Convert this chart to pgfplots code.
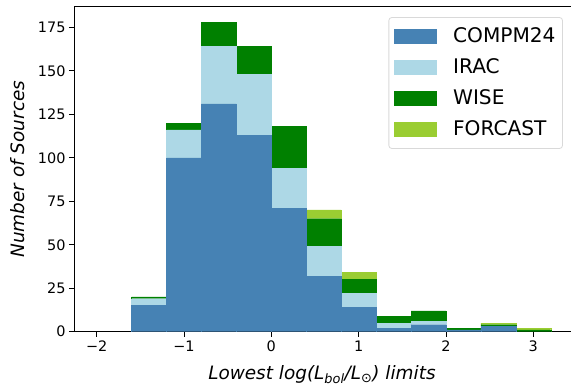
\documentclass[border=0pt]{standalone}
\usepackage{fontspec}
\setmainfont{DejaVu Sans}
\usepackage{pgfplots}
\pgfplotsset{compat=1.18}
\definecolor{cSteel}{RGB}{70,130,180}
\definecolor{cLight}{RGB}{173,216,230}
\definecolor{cGreen}{RGB}{0,128,0}
\definecolor{cYellow}{RGB}{154,205,50}
\begin{document}
\begin{tikzpicture}
\useasboundingbox (-74bp,-57.3bp) rectangle (497bp,331.7bp);
\begin{axis}[
  at={(0,0)}, anchor=south west,
  width=499.4bp, height=325bp, scale only axis,
  xmin=-2.26, xmax=3.46, ymin=0, ymax=186.9,
  ybar stacked, bar width=0.4,
  axis line style={line width=0.8bp, black},
  every tick/.style={line width=0.8bp, black},
  tick align=outside, major tick length=5bp,
  xtick pos=lower, ytick pos=left,
  xtick={-2,-1,0,1,2,3}, xticklabels={−2,−1,0,1,2,3},
  ytick={0,25,50,75,100,125,150,175},
  /pgf/number format/assume math mode=true,
  tick label style={font=\fontsize{14.5}{17}\selectfont},
  xticklabel style={yshift=-1bp},
  label style={font=\fontsize{18.5}{22}\selectfont\itshape},
  xlabel={Lowest log(L\textsubscript{bol}/L\textsubscript{⊙}) limits},
  ylabel={Number of Sources},
  xlabel style={at={(axis description cs:0.4965,-0.132)}, anchor=center},
  ylabel style={at={(axis description cs:-0.1122,0.5)}, anchor=center},
  legend style={at={(axis description cs:0.979,0.968)}, anchor=north east,
    draw=black!15, rounded corners=3bp, line width=0.8bp,
    font=\fontsize{20.2}{24}\selectfont,
    inner xsep=5bp, inner ysep=7bp,
    nodes={inner sep=2bp, text height=16bp, text depth=4bp},
    row sep=7bp, column sep=15bp},
  legend cell align=left,
  legend image code/.code={\fill[#1, sharp corners] (0bp,-7bp) rectangle (42bp,7bp);},
]
\addplot[fill=cSteel, draw=cSteel, line width=0.3bp] coordinates {
(-1.4,15) (-1.0,100) (-0.6,131) (-0.2,113) (0.2,71) (0.6,32)
(1.0,14) (1.4,2) (1.8,4) (2.2,1) (2.6,3) (3.0,0)};
\addplot[fill=cLight, draw=cLight, line width=0.3bp] coordinates {
(-1.4,4) (-1.0,16) (-0.6,33) (-0.2,35) (0.2,23) (0.6,17)
(1.0,8) (1.4,3) (1.8,2) (2.2,0) (2.6,0) (3.0,0)};
\addplot[fill=cGreen, draw=cGreen, line width=0.3bp] coordinates {
(-1.4,1) (-1.0,4) (-0.6,14) (-0.2,16) (0.2,24) (0.6,16)
(1.0,8) (1.4,4) (1.8,6) (2.2,1) (2.6,1) (3.0,1)};
\addplot[fill=cYellow, draw=cYellow, line width=0.3bp] coordinates {
(-1.4,0) (-1.0,0) (-0.6,0) (-0.2,0) (0.2,0) (0.6,5)
(1.0,4) (1.4,0) (1.8,0) (2.2,0) (2.6,1) (3.0,1)};
\legend{COMPM24, IRAC, WISE, FORCAST}
\end{axis}
\end{tikzpicture}
\end{document}
